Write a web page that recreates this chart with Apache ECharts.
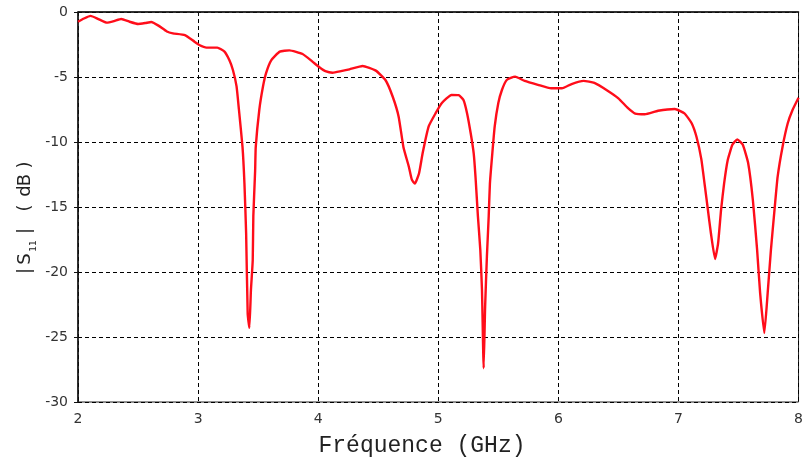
<!DOCTYPE html>
<html>
<head>
<meta charset="utf-8">
<script src="https://cdn.jsdelivr.net/npm/echarts@6/dist/echarts.min.js"></script>
<style>
  html, body { margin: 0; padding: 0; background: #fff; }
  #chart { width: 806px; height: 462px; }
</style>
</head>
<body>
<div id="chart"></div>
<script>
// Frequency sweep (GHz) and measured reflection coefficient |S11| (dB)
const freqGHz = [
  2.00, 2.05, 2.105, 2.17, 2.24, 2.30, 2.36, 2.43, 2.50, 2.56, 2.61, 2.67, 2.74, 2.79, 2.89, 2.97,
  3.01, 3.07, 3.16, 3.22, 3.26, 3.29, 3.32, 3.34, 3.37, 3.386, 3.40, 3.413, 3.427, 3.44, 3.455, 3.46,
  3.475, 3.48, 3.51, 3.54, 3.566, 3.61, 3.68, 3.76, 3.87, 3.95, 4.01, 4.06, 4.12, 4.19, 4.26, 4.37,
  4.48, 4.56, 4.62, 4.67, 4.71, 4.755, 4.78, 4.805, 4.84, 4.87, 4.92, 4.977, 5.03, 5.11, 5.17, 5.21,
  5.24, 5.27, 5.295, 5.31, 5.33, 5.35, 5.364, 5.378, 5.39, 5.405, 5.42, 5.43, 5.45, 5.47, 5.50, 5.53,
  5.57, 5.64, 5.72, 5.83, 5.94, 6.03, 6.11, 6.21, 6.30, 6.41, 6.50, 6.58, 6.64, 6.72, 6.83, 6.97,
  7.05, 7.11, 7.15, 7.19, 7.22, 7.245, 7.27, 7.305, 7.33, 7.355, 7.38, 7.41, 7.45, 7.49, 7.535, 7.58,
  7.62, 7.655, 7.68, 7.715, 7.743, 7.77, 7.80, 7.826, 7.867, 7.91, 7.95, 8.00
];
const s11dB = [
  -0.75, -0.5, -0.3, -0.55, -0.82, -0.7, -0.54, -0.75, -0.92, -0.85, -0.77, -1.05, -1.5, -1.64, -1.77, -2.28,
  -2.54, -2.74, -2.74, -3.05, -3.7, -4.46, -5.7, -7.5, -10.4, -13.2, -17.0, -23.2, -24.3, -21.4, -19.1, -15.7,
  -12.2, -10.4, -7.5, -5.75, -4.7, -3.7, -3.05, -2.95, -3.23, -3.8, -4.25, -4.55, -4.67, -4.55, -4.41, -4.15,
  -4.51, -5.23, -6.5, -8.05, -10.4, -11.9, -12.9, -13.2, -12.4, -10.85, -8.8, -7.8, -7.0, -6.38, -6.4, -6.77,
  -7.8, -9.33, -10.87, -12.67, -15.7, -18.3, -21.4, -27.4, -22.7, -18.8, -15.7, -13.2, -10.87, -8.8, -7.0, -6.0,
  -5.23, -4.97, -5.3, -5.6, -5.87, -5.87, -5.54, -5.3, -5.45, -6.05, -6.64, -7.4, -7.82, -7.87, -7.6, -7.46,
  -7.8, -8.56, -9.6, -11.3, -13.4, -15.2, -17.0, -19.0, -17.8, -15.2, -13.2, -11.4, -10.2, -9.8, -10.2, -11.6,
  -14.5, -18.3, -21.6, -24.7, -21.6, -18.3, -15.2, -12.67, -10.36, -8.56, -7.54, -6.6
];
const xTicks = [2, 3, 4, 5, 6, 7, 8];
const yTicks = [0, -5, -10, -15, -20, -25, -30];
const xTitle = 'Fréquence (GHz)';
// vertical axis title, drawn glyph by glyph so the wide letter spacing is kept
const yTitleGlyphs = ['|', 'S', '11', '|', '(', 'd', 'B', ')'];

const points = freqGHz.map((f, i) => [f, s11dB[i]]);
const monoFont = '"Liberation Mono", "DejaVu Sans Mono", monospace';
const sansFont = '"DejaVu Sans", sans-serif';
const gridDash = { color: '#000', width: 1, type: [4, 3] };

// glyph centres along the rotated title (screen y) and their sizes
const glyphY = [271, 259, 246, 231, 208, 191, 180, 165];
const yTitle = yTitleGlyphs.map((g, i) => {
  const isSub = g === '11';
  return {
    type: 'text',
    x: isSub ? 34 : 25,
    y: glyphY[i],
    rotation: Math.PI / 2,
    style: {
      text: g,
      fontFamily: sansFont,
      fontSize: isSub ? 9 : 18,
      fill: '#222',
      textAlign: 'center',
      textVerticalAlign: 'middle'
    }
  };
});

const chart = echarts.init(document.getElementById('chart'), null, { renderer: 'canvas' });
chart.setOption({
  animation: false,
  backgroundColor: '#fff',
  grid: { left: 78, right: 5, top: 12, bottom: 60, show: true, borderColor: '#222', borderWidth: 1 },
  xAxis: {
    type: 'value',
    min: xTicks[0], max: xTicks[xTicks.length - 1], interval: 1,
    axisLine: { show: true, lineStyle: { color: '#111', width: 1.5 } },
    axisTick: { show: true, length: 4, lineStyle: { color: '#111' } },
    axisLabel: { color: '#333', fontFamily: sansFont, fontSize: 14, margin: 10 },
    splitLine: { show: true, lineStyle: gridDash }
  },
  yAxis: {
    type: 'value',
    min: yTicks[yTicks.length - 1], max: yTicks[0], interval: 5,
    axisLine: { show: true, lineStyle: { color: '#111', width: 1.5 } },
    axisTick: { show: true, length: 4, lineStyle: { color: '#111' } },
    axisLabel: { color: '#333', fontFamily: sansFont, fontSize: 14, margin: 10 },
    splitLine: { show: true, lineStyle: gridDash }
  },
  graphic: [{
    type: 'text',
    x: 422, y: 446,
    style: {
      text: xTitle,
      fontFamily: monoFont, fontSize: 23, fill: '#222',
      textAlign: 'center', textVerticalAlign: 'middle'
    }
  }].concat(yTitle),
  series: [{
    type: 'line',
    data: points,
    showSymbol: false,
    smooth: 0.15,
    lineStyle: { color: '#ff0d1a', width: 2.4 },
    clip: true
  }]
});
</script>
</body>
</html>
